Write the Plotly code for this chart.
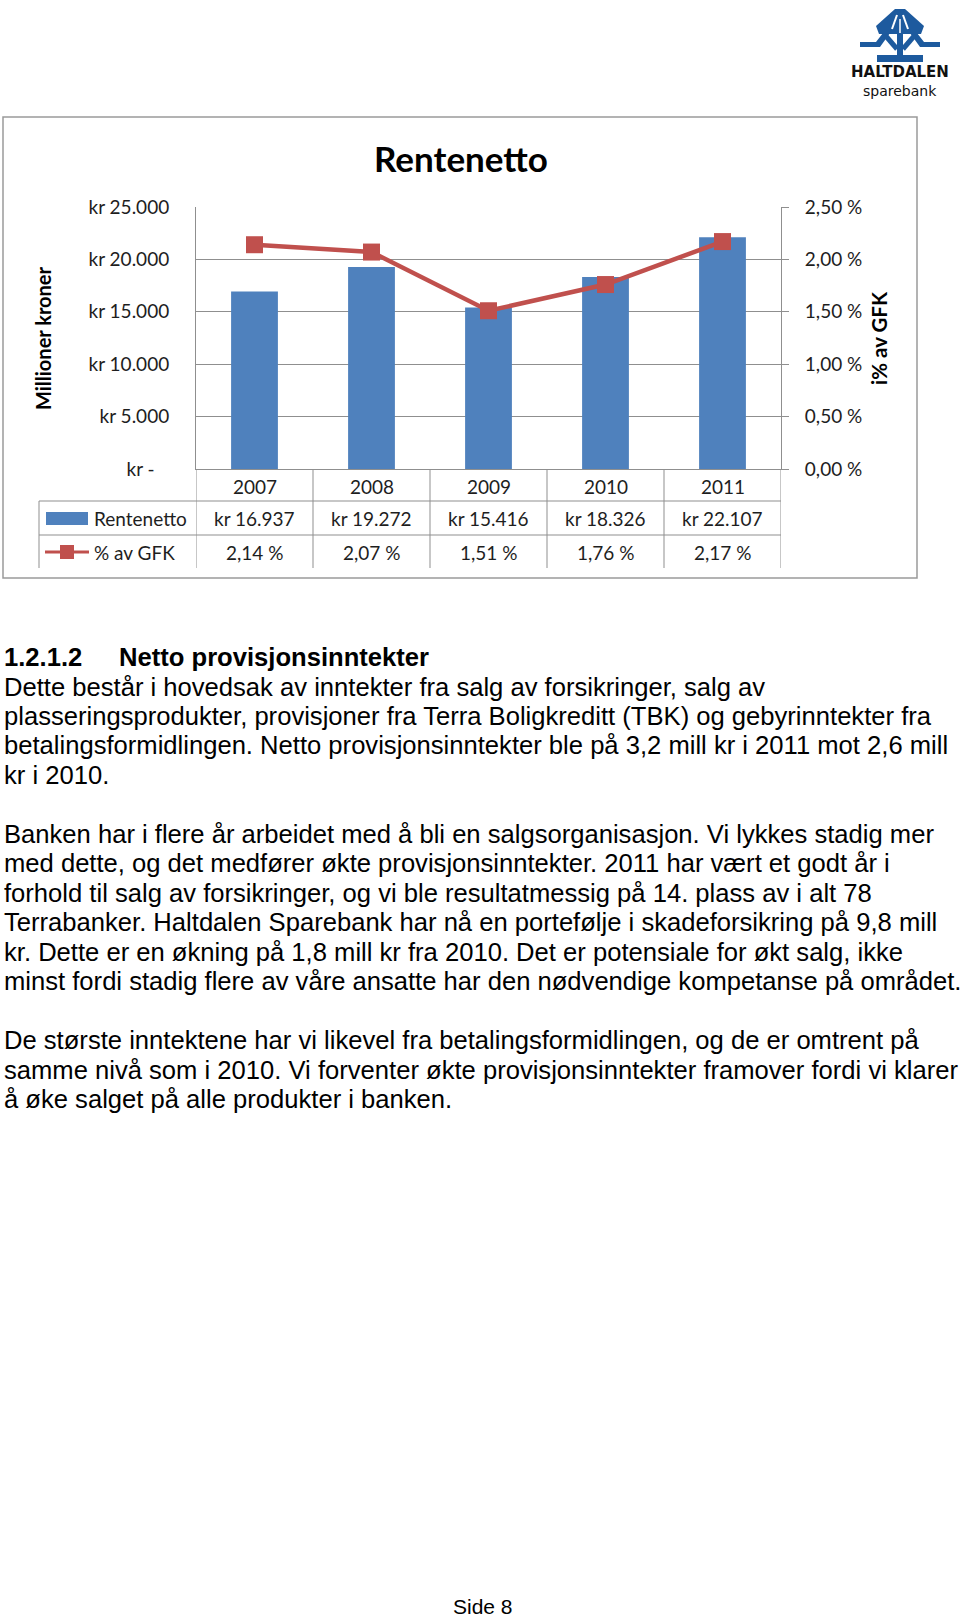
import plotly.graph_objects as go

# ---------------- data ----------------
years = ["2007", "2008", "2009", "2010", "2011"]
rentenetto = [16937, 19272, 15416, 18326, 22107]
pct_gfk = [2.14, 2.07, 1.51, 1.76, 2.17]

left_tickvals = [0, 5000, 10000, 15000, 20000, 25000]
left_ticktext = ["kr -\u00a0\u00a0\u00a0", "kr 5.000", "kr 10.000", "kr 15.000", "kr 20.000", "kr 25.000"]
right_tickvals = [0, 0.5, 1.0, 1.5, 2.0, 2.5]
right_ticktext = ["0,00 %", "0,50 %", "1,00 %", "1,50 %", "2,00 %", "2,50 %"]

rentenetto_labels = ["kr 16.937", "kr 19.272", "kr 15.416", "kr 18.326", "kr 22.107"]
pct_labels = ["2,14 %", "2,07 %", "1,51 %", "1,76 %", "2,17 %"]

heading_num = "1.2.1.2"
heading_text = "Netto provisjonsinntekter"
body_lines = [
    "Dette består i hovedsak av inntekter fra salg av forsikringer, salg av",
    "plasseringsprodukter, provisjoner fra Terra Boligkreditt (TBK) og gebyrinntekter fra",
    "betalingsformidlingen. Netto provisjonsinntekter ble på 3,2 mill kr i 2011 mot 2,6 mill",
    "kr i 2010.",
    "",
    "Banken har i flere år arbeidet med å bli en salgsorganisasjon. Vi lykkes stadig mer",
    "med dette, og det medfører økte provisjonsinntekter. 2011 har vært et godt år i",
    "forhold til salg av forsikringer, og vi ble resultatmessig på 14. plass av i alt 78",
    "Terrabanker. Haltdalen Sparebank har nå en portefølje i skadeforsikring på 9,8 mill",
    "kr. Dette er en økning på 1,8 mill kr fra 2010. Det er potensiale for økt salg, ikke",
    "minst fordi stadig flere av våre ansatte har den nødvendige kompetanse på området.",
    "",
    "De største inntektene har vi likevel fra betalingsformidlingen, og de er omtrent på",
    "samme nivå som i 2010. Vi forventer økte provisjonsinntekter framover fordi vi klarer",
    "å øke salget på alle produkter i banken.",
]

# ---------------- layout helpers ----------------
W, H = 960, 1619
def px(x):
    return x / W
def py(y):
    return 1 - y / H

BLUE = "#4F81BD"
RED = "#C0504D"
GRID = "#8f8f8f"
TXT = "#1e1e1e"
CFONT = "Lato, Carlito, sans-serif"
BFONT = "Liberation Sans, Arial, sans-serif"

plot_l, plot_r, plot_t, plot_b = 196, 781, 207, 469

fig = go.Figure()
fig.add_trace(go.Bar(x=years, y=rentenetto, marker=dict(color=BLUE, line=dict(width=0)),
                     name="Rentenetto", yaxis="y"))
fig.add_trace(go.Scatter(x=years, y=pct_gfk, mode="lines+markers", yaxis="y2", name="% av GFK",
                         line=dict(color=RED, width=4.5),
                         marker=dict(symbol="square", size=17, color=RED)))

shapes = []
annotations = []

# outer chart border
shapes.append(dict(type="rect", xref="paper", yref="paper", x0=px(3), x1=px(917), y0=py(117), y1=py(578),
                   line=dict(color="#9a9a9a", width=1.5), layer="below"))

annotations.append(dict(text="<b>Rentenetto</b>", xref="paper", yref="paper", x=px(461), y=py(158),
                        showarrow=False, font=dict(family=CFONT, size=35, color="#000"),
                        xanchor="center", yanchor="middle"))
annotations.append(dict(text="<b>Millioner kroner</b>", xref="paper", yref="paper", x=px(43), y=py(338),
                        showarrow=False, textangle=-90, font=dict(family=CFONT, size=20, color="#000"),
                        xanchor="center", yanchor="middle"))
annotations.append(dict(text="<b>i% av GFK</b>", xref="paper", yref="paper", x=px(879), y=py(338),
                        showarrow=False, textangle=-90, font=dict(family=CFONT, size=20.5, color="#000"),
                        xanchor="center", yanchor="middle"))

# data table under the chart
row_year, row_val, row_pct = 486, 518, 552
for i, yr in enumerate(years):
    annotations.append(dict(text=yr, xref="x", yref="paper", x=i, y=py(row_year), showarrow=False,
                            font=dict(family=CFONT, size=19, color=TXT), xanchor="center", yanchor="middle"))
    annotations.append(dict(text=rentenetto_labels[i], xref="x", yref="paper", x=i, y=py(row_val), showarrow=False,
                            font=dict(family=CFONT, size=19, color=TXT), xanchor="center", yanchor="middle"))
    annotations.append(dict(text=pct_labels[i], xref="x", yref="paper", x=i, y=py(row_pct), showarrow=False,
                            font=dict(family=CFONT, size=19, color=TXT), xanchor="center", yanchor="middle"))
for k in range(len(years) + 1):
    shapes.append(dict(type="line", xref="x", yref="paper", x0=k - 0.5, x1=k - 0.5, y0=py(469), y1=py(568),
                       line=dict(color=GRID, width=1)))
for yy in (501, 535):
    shapes.append(dict(type="line", xref="paper", yref="paper", x0=px(39), x1=px(plot_r), y0=py(yy), y1=py(yy),
                       line=dict(color=GRID, width=1)))
shapes.append(dict(type="line", xref="paper", yref="paper", x0=px(39), x1=px(39), y0=py(501), y1=py(568),
                   line=dict(color=GRID, width=1)))
# legend keys
shapes.append(dict(type="rect", xref="paper", yref="paper", x0=px(46), x1=px(88), y0=py(525), y1=py(512),
                   fillcolor=BLUE, line=dict(width=0)))
shapes.append(dict(type="line", xref="paper", yref="paper", x0=px(45), x1=px(89), y0=py(552), y1=py(552),
                   line=dict(color=RED, width=3)))
shapes.append(dict(type="rect", xref="paper", yref="paper", x0=px(60), x1=px(74), y0=py(559), y1=py(545),
                   fillcolor=RED, line=dict(width=0)))
annotations.append(dict(text="Rentenetto", xref="paper", yref="paper", x=px(92), y=py(row_val), showarrow=False,
                        font=dict(family=CFONT, size=19, color=TXT), xanchor="left", yanchor="middle"))
annotations.append(dict(text="% av GFK", xref="paper", yref="paper", x=px(92), y=py(row_pct), showarrow=False,
                        font=dict(family=CFONT, size=19, color=TXT), xanchor="left", yanchor="middle"))

# ---------------- logo (approximation) ----------------
LOGO = "#1d5a9e"
def pth(points):
    return "M " + " L ".join(f"{px(x)},{py(y)}" for x, y in points) + " Z"
def fill(points, color=LOGO):
    shapes.append(dict(type="path", xref="paper", yref="paper", path=pth(points),
                       fillcolor=color, line=dict(width=0)))
def seg(x0, y0, x1, y1, w, color=LOGO):
    shapes.append(dict(type="line", xref="paper", yref="paper", x0=px(x0), x1=px(x1), y0=py(y0), y1=py(y1),
                       line=dict(color=color, width=w)))
# roof
fill([(895, 9), (905, 9), (924, 26), (921, 34), (879, 34), (876, 26)])
# white inner pattern
seg(897, 15, 892, 29, 2, "white")
seg(903, 15, 908, 29, 2, "white")
seg(900, 19, 900, 33, 1.5, "white")
# side arms
fill([(860, 42), (876, 42), (883, 33), (890, 33), (880, 47), (860, 47)])
fill([(940, 42), (924, 42), (917, 33), (910, 33), (920, 47), (940, 47)])
# inner diagonals towards the stem
seg(885, 35, 897, 49, 5)
seg(915, 35, 903, 49, 5)
# stem and base
fill([(897, 33), (903, 33), (903, 56), (897, 56)])
fill([(877, 55), (923, 55), (923, 62), (877, 62)])

annotations.append(dict(text="<b>HALTDALEN</b>", xref="paper", yref="paper", x=px(900), y=py(72.5), showarrow=False,
                        font=dict(family="DejaVu Sans, sans-serif", size=15, color="#111"),
                        xanchor="center", yanchor="middle"))
annotations.append(dict(text="sparebank", xref="paper", yref="paper", x=px(900), y=py(90.5), showarrow=False,
                        font=dict(family="DejaVu Sans, sans-serif", size=14, color="#111"),
                        xanchor="center", yanchor="middle"))

# ---------------- body text ----------------
annotations.append(dict(text="<b>" + heading_num + "</b>", xref="paper", yref="paper", x=px(2), y=py(657),
                        showarrow=False, font=dict(family=BFONT, size=25.6, color="#000"),
                        xanchor="left", yanchor="middle"))
annotations.append(dict(text="<b>" + heading_text + "</b>", xref="paper", yref="paper", x=px(117), y=py(657),
                        showarrow=False, font=dict(family=BFONT, size=25.6, color="#000"),
                        xanchor="left", yanchor="middle"))
y0 = 686.5
step = 29.47
for i, line in enumerate(body_lines):
    if not line:
        continue
    annotations.append(dict(text=line, xref="paper", yref="paper", x=px(2), y=py(y0 + i * step),
                            showarrow=False, font=dict(family=BFONT, size=25.6, color="#000"),
                            xanchor="left", yanchor="middle"))
annotations.append(dict(text="Side 8", xref="paper", yref="paper", x=px(483), y=py(1606), showarrow=False,
                        font=dict(family=BFONT, size=21, color="#000"), xanchor="center", yanchor="middle"))

fig.update_layout(
    width=W, height=H, margin=dict(l=0, r=0, t=0, b=0, autoexpand=False),
    paper_bgcolor="white", plot_bgcolor="white",
    showlegend=False, bargap=0.6,
    xaxis=dict(domain=[px(plot_l), px(plot_r)], range=[-0.5, 4.5], type="category",
               showticklabels=False, ticks="", showgrid=False, zeroline=False,
               showline=True, linecolor=GRID, linewidth=1),
    yaxis=dict(domain=[py(plot_b), py(plot_t)], range=[0, 25000], tickvals=left_tickvals,
               ticktext=left_ticktext, showgrid=True, gridcolor=GRID, gridwidth=1, zeroline=False,
               showline=True, linecolor=GRID, linewidth=1, ticks="", ticklabelstandoff=22,
               tickfont=dict(family=CFONT, size=19, color=TXT)),
    yaxis2=dict(overlaying="y", side="right", range=[0, 2.5], tickvals=right_tickvals,
                ticktext=right_ticktext, showgrid=False, zeroline=False,
                showline=True, linecolor=GRID, linewidth=1, ticks="outside", ticklen=7, tickcolor=GRID,
                ticklabelstandoff=12, tickfont=dict(family=CFONT, size=19, color=TXT)),
    shapes=shapes, annotations=annotations,
)

fig.write_html("out.html")
